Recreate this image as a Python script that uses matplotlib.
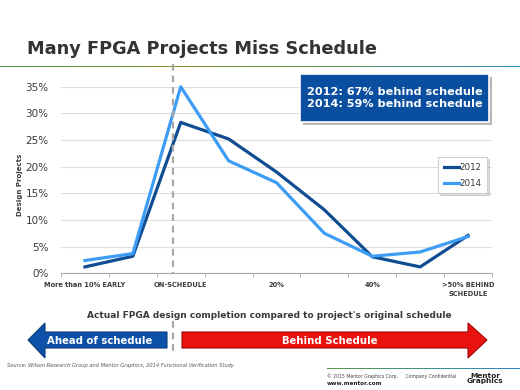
import numpy as np
import matplotlib
matplotlib.use("Agg")
import matplotlib.pyplot as plt
from matplotlib.patches import Polygon, FancyBboxPatch
from matplotlib.colors import LinearSegmentedColormap

# data
categories = ["early>10", "early", "on", "10", "20", "30", "40", "50", ">50"]
tick_pos = [0, 2, 4, 6, 8]
tick_labels = ["More than 10% EARLY", "ON-SCHEDULE", "20%", "40%", ">50% BEHIND\nSCHEDULE"]
y2012 = [0.012, 0.032, 0.283, 0.252, 0.190, 0.119, 0.031, 0.012, 0.071]
y2014 = [0.024, 0.037, 0.350, 0.211, 0.170, 0.075, 0.032, 0.040, 0.069]
yticks = [0, 0.05, 0.10, 0.15, 0.20, 0.25, 0.30, 0.35]

W, H = 520, 390
fig = plt.figure(figsize=(W / 100, H / 100), dpi=100)


def fx(x):
    return x / W


def fy(y):
    return 1 - y / H


dark = "#0f4c91"
light = "#3d9df5"
grey_txt = "#3a3a3a"

# title + gradient rule
fig.text(fx(27), fy(49), "Many FPGA Projects Miss Schedule", fontsize=12.8,
         fontweight="bold", color="#333333", va="center", ha="left")
grad = LinearSegmentedColormap.from_list("g", ["#4f9a4e", "#7e9a2f", "#5f9a5a", "#2b8cc4"])
gax = fig.add_axes([0, fy(67.5), 1, 2 / H])
gax.imshow(np.linspace(0, 1, 256)[None, :], aspect="auto", cmap=grad)
gax.axis("off")

# main chart
ax = fig.add_axes([fx(61), fy(273.3), fx(492) - fx(61), fy(86.7) - fy(273.3)])
x = np.arange(len(categories))
ax.plot(x, y2012, color=dark, lw=2.3, label="2012", clip_on=False, zorder=3)
ax.plot(x, y2014, color=light, lw=2.3, label="2014", clip_on=False, zorder=3)
ax.set_xlim(-0.5, 8.5)
ax.set_ylim(0, 0.35)
ax.set_yticks(yticks)
ax.set_yticklabels(["%d%%" % round(v * 100) for v in yticks], fontsize=7.5, color=grey_txt)
ax.tick_params(axis="y", length=0, pad=9)
ax.yaxis.grid(True, color="#dddddd", lw=0.8)
ax.set_axisbelow(True)
ax.set_xticks(tick_pos)
ax.set_xticklabels(tick_labels, fontsize=4.8, fontweight="bold", color=grey_txt,
                   linespacing=1.6, va="top")
ax.set_xticks(np.arange(-0.5, 9, 1), minor=True)
ax.tick_params(axis="x", which="major", length=0, pad=6)
ax.tick_params(axis="x", which="minor", length=3, color="#aaaaaa", direction="out")
for s in ["left", "right", "top"]:
    ax.spines[s].set_visible(False)
ax.spines["bottom"].set_color("#aaaaaa")
ax.patch.set_alpha(0)
fig.text(fx(20), fy(185), "Design Projects", rotation=90, fontsize=5,
         fontweight="bold", color=grey_txt, ha="center", va="center")

leg = ax.legend(loc="upper left", bbox_to_anchor=(fx(434), fy(153)),
                bbox_transform=fig.transFigure, fontsize=6.3, frameon=True,
                fancybox=False, shadow={"alpha": 0.18, "ox": 1.5, "oy": -1.5},
                handlelength=1.8, handletextpad=0.05,
                borderpad=0.6, labelspacing=0.8, labelcolor=grey_txt)
leg.get_frame().set_edgecolor("#d0d0d0")
leg.get_frame().set_linewidth(0.8)

# dashed on-schedule marker
fig.add_artist(plt.Line2D([fx(173), fx(173)], [fy(64), fy(273)], color="#a8a8a8",
                          lw=1.6, ls=(0, (3, 2.2)), zorder=5))
fig.add_artist(plt.Line2D([fx(173), fx(173)], [fy(321), fy(352)], color="#a8a8a8",
                          lw=1.6, ls=(0, (3, 2.2))))

# callout box
box = FancyBboxPatch((fx(300), fy(122)), fx(489) - fx(300), fy(74) - fy(122),
                     boxstyle="square,pad=0", transform=fig.transFigure,
                     facecolor="#0a4ea0", edgecolor="white", lw=1.2, zorder=6)
shadow = FancyBboxPatch((fx(302.5), fy(124.5)), fx(489) - fx(300), fy(74) - fy(122),
                        boxstyle="square,pad=0", transform=fig.transFigure,
                        facecolor="#888888", edgecolor="none", alpha=0.6, zorder=5)
fig.add_artist(shadow)
fig.add_artist(box)
fig.text(fx(394.5), fy(98), "2012: 67% behind schedule\n2014: 59% behind schedule",
         fontsize=8.1, fontweight="bold", color="white", ha="center", va="center",
         linespacing=1.25, zorder=7)

# axis caption
fig.text(fx(269), fy(315), "Actual FPGA design completion compared to project's original schedule",
         fontsize=6.5, fontweight="bold", color=grey_txt, ha="center", va="center")

# arrows
blue_arrow = [(28, 340), (45, 323), (45, 332), (167, 332), (167, 348), (45, 348), (45, 358)]
red_arrow = [(182, 332), (468, 332), (468, 323), (487, 340), (468, 358), (468, 348), (182, 348)]
fig.add_artist(Polygon([(fx(a), fy(b)) for a, b in blue_arrow], closed=True,
                       transform=fig.transFigure, facecolor="#0d52a8", edgecolor="#0a3d7a", lw=0.8))
fig.add_artist(Polygon([(fx(a), fy(b)) for a, b in red_arrow], closed=True,
                       transform=fig.transFigure, facecolor="#e8120f", edgecolor="#a00808", lw=0.8))
fig.text(fx(100), fy(340.5), "Ahead of schedule", fontsize=7.3, fontweight="bold",
         color="white", ha="center", va="center")
fig.text(fx(330), fy(340.5), "Behind Schedule", fontsize=7.3, fontweight="bold",
         color="white", ha="center", va="center")

# footer
fig.text(fx(7), fy(365), "Source: Wilson Research Group and Mentor Graphics, 2014 Functional Verification Study",
         fontsize=3.7, style="italic", color="#555555", ha="left", va="center")
fax = fig.add_axes([fx(327), fy(369), fx(520) - fx(327), 1.5 / H])
fax.imshow(np.linspace(0, 1, 256)[None, :], aspect="auto",
           cmap=LinearSegmentedColormap.from_list("f", ["#5a9a4a", "#2b8cc4"]))
fax.axis("off")
fig.text(fx(327), fy(376), "\u00a9 2015 Mentor Graphics Corp.     Company Confidential",
         fontsize=3.3, color="#444444", ha="left", va="center")
fig.text(fx(327), fy(383.5), "www.mentor.com", fontsize=4.1, fontweight="bold",
         color="#222222", ha="left", va="center")
fig.text(fx(485), fy(378.5), "Mentor\nGraphics", fontsize=5.3, fontweight="bold",
         color="#222222", ha="center", va="center", linespacing=0.85)

fig.savefig("out.png", dpi=100)
